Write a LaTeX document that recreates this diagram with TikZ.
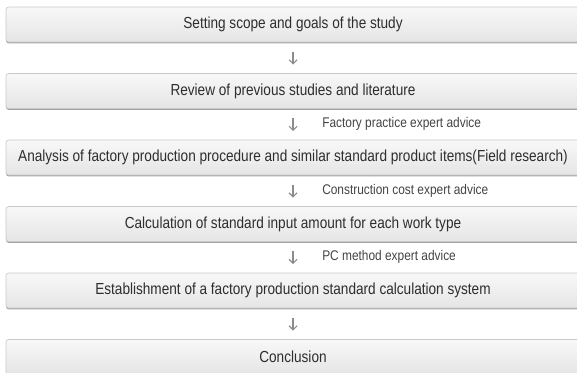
\documentclass[tikz,border=0pt]{standalone}
\usepackage{fontspec}
\setmainfont{Liberation Sans}
\newfontfamily\narrowfont[FakeStretch=0.85]{Liberation Sans}
\usetikzlibrary{arrows.meta,calc,shadows}

\definecolor{boxtop}{HTML}{F8F8F8}
\definecolor{boxbot}{HTML}{E5E5E5}
\definecolor{boxline}{HTML}{C9C9C9}
\definecolor{arrowgray}{HTML}{8C8C8C}
\definecolor{txt}{HTML}{2E2E2E}

\tikzset{
	step box/.style={draw=boxline, line width=0.5pt, rounded corners=2pt,
		top color=boxtop, bottom color=boxbot,
		drop shadow={shadow xshift=0pt, shadow yshift=-1pt, fill=black!45, opacity=0.8},
		minimum width=430.5pt, minimum height=26.25pt, inner sep=0pt,
		font=\narrowfont\fontsize{12}{14}\selectfont, text=txt},
	down arrow/.style={draw=arrowgray, line width=0.8pt,
		-{Straight Barb[length=3pt,width=6pt]}, shorten <=7pt, shorten >=6.5pt},
	advice/.style={anchor=west, font=\narrowfont\fontsize{10.5}{12}\selectfont, text=txt!90, inner sep=0pt}
}

\begin{document}
\begin{tikzpicture}[x=0.75pt,y=-0.75pt]
			%%%%% START %%%%%
			\useasboundingbox (0,0) rectangle (577,372);
			\clip (0,0) rectangle (577,372);
			
			\node[step box] (goal) at (293, 24.5) {Setting scope and goals of the study};
			\node[step box] (review) at (293, 91) {Review of previous studies and literature};
			\node[step box] (field) at (293, 157.5) {Analysis of factory production procedure and similar standard product items(Field research)};
			\node[step box] (calc) at (293, 224) {Calculation of standard input amount for each work type};
			\node[step box] (system) at (293, 290.5) {Establishment of a factory production standard calculation system};
			\node[step box] (concl) at (293, 357) {Conclusion};
			
			\draw[down arrow] (goal) -- (review);
			\draw[down arrow] (review) -- (field);
			\draw[down arrow] (field) -- (calc);
			\draw[down arrow] (calc) -- (system);
			\draw[down arrow] (system) -- (concl);
			
			% expert advice next to the arrows
			\node[advice] (adv1) at ($(review.south)!0.5!(field.north)+(29,0)$) {Factory practice expert advice};
			\node[advice] (adv2) at ($(field.south)!0.5!(calc.north)+(29,0)$) {Construction cost expert advice};
			\node[advice] (adv3) at ($(calc.south)!0.5!(system.north)+(29,0)$) {PC method expert advice};
			
			%%%%% END %%%%%
\end{tikzpicture}
\end{document}
